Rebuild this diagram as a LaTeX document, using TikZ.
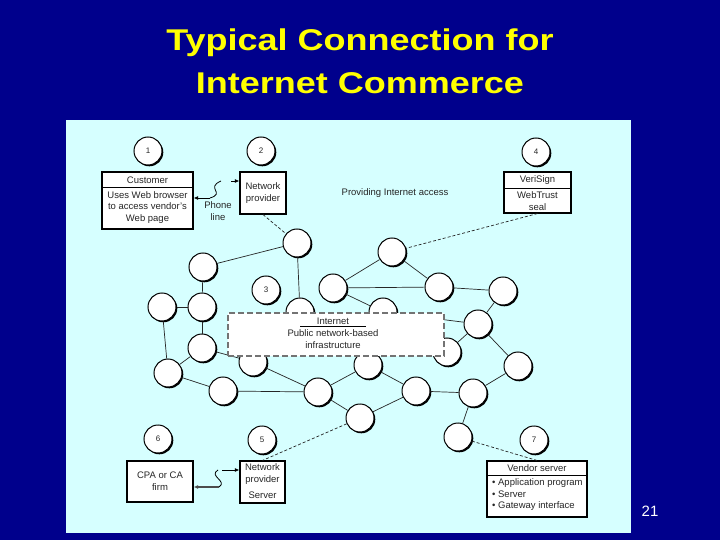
\documentclass[tikz,border=0pt]{standalone}
\usepackage{fontspec}
\usepackage{graphicx}
\setmainfont{Liberation Sans}
\usetikzlibrary{shadows,arrows.meta}
\definecolor{navy}{RGB}{0,0,140}
\definecolor{panel}{RGB}{214,255,255}
\definecolor{ttl}{RGB}{255,255,0}
\begin{document}
\begin{tikzpicture}[x=1pt,y=-1pt,
 shd/.style={drop shadow={shadow xshift=1.3pt,shadow yshift=-1.3pt,fill=black,opacity=1}},
 net/.style={circle,draw=black,line width=1pt,fill=white,minimum size=28pt,inner sep=0pt,shd},
 lbl/.style={net,font=\fontsize{8}{9}\selectfont,text=black!85},
 link/.style={line width=0.7pt,draw=black!85},
 dlink/.style={link,dash pattern=on 3pt off 2pt},
 boxst/.style={draw=black,line width=1.1pt,fill=white,inner sep=0pt,shd},
 txt/.style={inner sep=0pt,align=center,text=black!85,font=\fontsize{9.5}{11.5}\selectfont},
 arr/.style={line width=0.8pt,-{Latex[length=4.5pt,width=3.8pt]}},
 sep/.style={line width=0.9pt},
 ttlst/.style={anchor=base,text=ttl,inner sep=0pt,font=\fontsize{30}{34}\selectfont\bfseries}
]
\useasboundingbox (0,0) rectangle (720,540);
\fill[navy] (0,0) rectangle (720,540);
\fill[panel] (66,120) rectangle (631,533);

% title
\node[ttlst] (t1) at (360,51) {\scalebox{1.2}[1]{Typical Connection for}};
\node[ttlst] (t2) at (360,94) {\scalebox{1.2}[1]{Internet Commerce}};
\node[anchor=base,text=white,inner sep=0pt,font=\fontsize{15}{18}\selectfont] (pg) at (650,516) {21};

% boxes
\node[boxst,minimum width=91pt,minimum height=57pt] (cust) at (147.5,200.5) {};
\node[txt] (custh) at (147.5,180) {Customer};
\node[txt] (custb) at (147.5,207.5) {Uses Web browser\\to access vendor's\\Web page};
\draw[sep] (cust.west |- 0,187) -- (cust.east |- 0,187);

\node[boxst,minimum width=46pt,minimum height=42pt] (npt) at (263,193) {};
\node[txt] (nptt) at (263,193) {Network\\provider};

\node[boxst,minimum width=67pt,minimum height=41pt] (veri) at (537.5,192.5) {};
\node[txt] (verih) at (537.5,180) {VeriSign};
\node[txt] (verib) at (537.5,201) {WebTrust\\seal};
\draw[sep] (veri.west |- 0,188) -- (veri.east |- 0,188);

\node[boxst,minimum width=45pt,minimum height=42pt] (npb) at (262.5,482) {};
\node[txt] (npbt) at (262.5,474) {Network\\provider};
\node[txt] (npbs) at (262.5,495) {Server};

\node[boxst,minimum width=66pt,minimum height=41pt] (cpa) at (160,481.5) {};
\node[txt] (cpat) at (160,481) {CPA or CA\\firm};

\node[boxst,minimum width=100pt,minimum height=56pt] (vend) at (537,489) {};
\node[txt] (vendh) at (537,468) {Vendor server};
\node[txt,align=left,anchor=west] (vendb) at (492,495) {• Application program\\• Server\\• Gateway interface};
\draw[sep] (vend.west |- 0,475) -- (vend.east |- 0,475);

\node[txt] (prov) at (395,193) {Providing Internet access};
\node[txt] (phone) at (218,211) {Phone\\line};

% numbered circles
\node[lbl] (l1) at (148,151) {1};
\node[lbl] (l2) at (261,151) {2};
\node[lbl] (l4) at (536,152) {4};
\node[lbl] (l3) at (266,290) {3};
\node[lbl] (l5) at (262,440) {5};
\node[lbl] (l6) at (158,439) {6};
\node[lbl] (l7) at (534,440) {7};

% network circles
\node[net] (c1) at (297,243) {};
\node[net] (c2) at (203,267) {};
\node[net] (c3) at (392,252) {};
\node[net] (c4) at (333,288) {};
\node[net] (c5) at (439,287) {};
\node[net] (c6) at (503,291) {};
\node[net] (c7) at (162,307) {};
\node[net] (c8) at (202,307) {};
\node[net] (c9) at (300,312) {};
\node[net] (c10) at (383,312) {};
\node[net] (c11) at (478,324) {};
\node[net] (c12) at (202,348) {};
\node[net] (c13) at (253,362) {};
\node[net] (c14) at (447,352) {};
\node[net] (c15) at (168,373) {};
\node[net] (c16) at (368,365) {};
\node[net] (c17) at (518,366) {};
\node[net] (c18) at (223,391) {};
\node[net] (c19) at (318,392) {};
\node[net] (c20) at (416,391) {};
\node[net] (c21) at (473,393) {};
\node[net] (c22) at (360,418) {};
\node[net] (c23) at (458,437) {};

% links
\foreach \a/\b in {c1/c2,c1/c9,c2/c8,c7/c8,c8/c12,c7/c15,c12/c15,c12/c13,c15/c18,c18/c19,c13/c19,c19/c16,c19/c22,c16/c20,c22/c20,c20/c21,c21/c17,c21/c23,c17/c11,c11/c6,c11/c14,c10/c11,c4/c10,c4/c5,c4/c3,c3/c5,c5/c6}
  \draw[link] (\a) -- (\b);

% dashed access links
\draw[dlink] (npt.south) -- (c1);
\draw[dlink] (veri.south) -- (c3);
\draw[dlink] (c22) -- (npb.north);
\draw[dlink] (c23) -- (vend.north);

% phone lines
\coordinate (pa) at (231,181);
\coordinate (pb) at (221,181);
\coordinate (pc) at (210,198);
\draw[arr] (pa) -- (npt.west |- pa);
\draw[line width=0.8pt] (pb) .. controls (205,188) and (226,193) .. (pc);
\draw[arr] (pc) -- (cust.east |- pc);

\coordinate (qa) at (222,470);
\coordinate (qb) at (218,470);
\coordinate (qc) at (219,487);
\draw[arr] (qa) -- (npb.west |- qa);
\draw[line width=0.8pt] (qb) .. controls (208,476) and (228,481) .. (qc);
\draw[arr,line width=1.2pt,draw=black!70] (qc) -- (cpa.east |- qc);

% internet box
\node[draw=black!55,line width=1.8pt,dash pattern=on 6pt off 3pt,fill=white,minimum width=216pt,minimum height=43pt,inner sep=0pt] (inet) at (336,334.5) {};
\node[txt] (ineth) at (333,321) {Internet};
\coordinate (ul) at (300,326.5);
\coordinate (ur) at (366,326.5);
\draw[line width=0.7pt] (ul) -- (ur);
\node[txt] (inetb) at (333,339) {Public network-based\\infrastructure};
\end{tikzpicture}
\end{document}
